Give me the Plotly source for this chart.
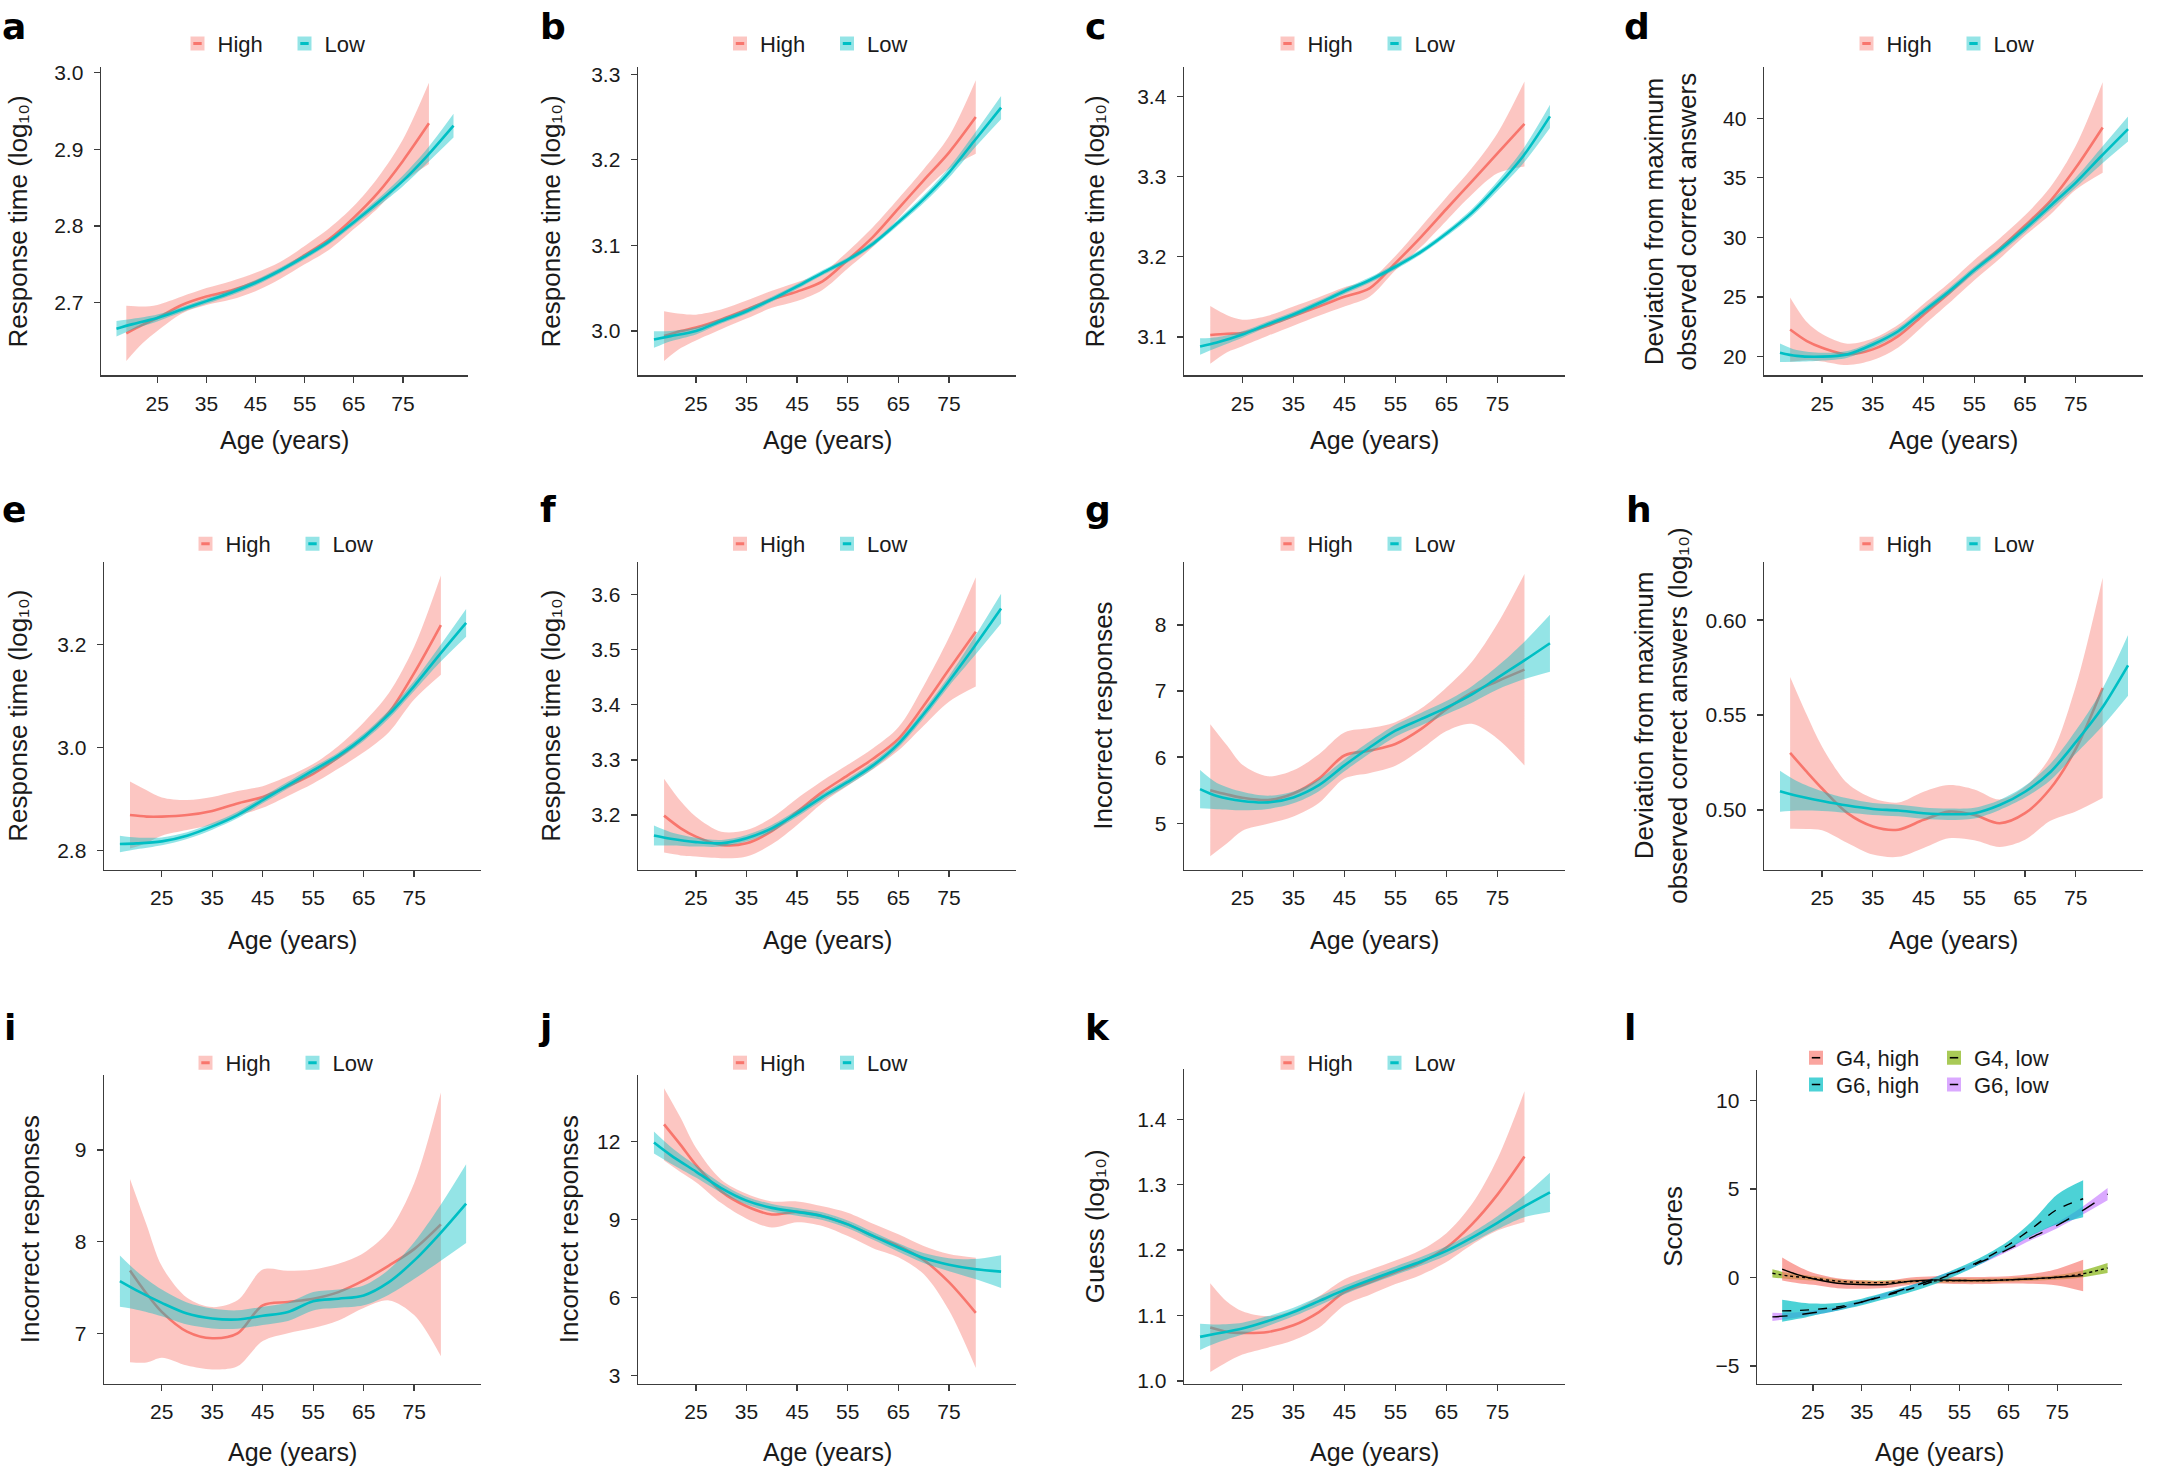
import numpy as np
import plotly.graph_objects as go

# ---------------- data ----------------
AGE_HIGH = [18.7, 22, 25, 30, 35, 40, 45, 50, 55, 60, 65, 70, 75, 80.3]
AGE_LOW = [16.7, 20, 25, 30, 35, 40, 45, 50, 55, 60, 65, 70, 75, 80, 85.3]
X_TICKS = [25, 35, 45, 55, 65, 75]
X_TICK_TEXT = ["25", "35", "45", "55", "65", "75"]
GROUPS = ["High", "Low"]

A_HIGH = [2.660, 2.671, 2.680, 2.697, 2.708, 2.716, 2.727, 2.742, 2.762, 2.783, 2.811, 2.844, 2.885, 2.934]
A_HIGH_CI = [0.036, 0.024, 0.017, 0.011, 0.011, 0.012, 0.012, 0.011, 0.012, 0.014, 0.015, 0.020, 0.028, 0.053]
A_LOW = [2.666, 2.672, 2.680, 2.691, 2.702, 2.713, 2.726, 2.742, 2.760, 2.780, 2.805, 2.831, 2.859, 2.892, 2.931]
A_LOW_CI = [0.010, 0.007, 0.0045, 0.0035, 0.0035, 0.0035, 0.0035, 0.0035, 0.0035, 0.0035, 0.004, 0.005, 0.007, 0.0095, 0.0155]

B_HIGH = [2.994, 3.000, 3.004, 3.0135, 3.025, 3.037, 3.046, 3.058, 3.083, 3.110, 3.143, 3.176, 3.2085, 3.250]
B_HIGH_CI = [0.029, 0.020, 0.015, 0.0115, 0.0105, 0.010, 0.011, 0.010, 0.010, 0.0115, 0.0115, 0.013, 0.019, 0.043]
B_LOW = [2.990, 2.994, 3.000, 3.0116, 3.023, 3.037, 3.052, 3.068, 3.083, 3.102, 3.127, 3.154, 3.185, 3.222, 3.261]
B_LOW_CI = [0.0097, 0.006, 0.004, 0.003, 0.003, 0.003, 0.003, 0.003, 0.003, 0.003, 0.0035, 0.0045, 0.006, 0.0085, 0.0135]

C_HIGH = [3.1025, 3.104, 3.105, 3.114, 3.126, 3.138, 3.150, 3.161, 3.192, 3.2245, 3.2595, 3.294, 3.329, 3.3655]
C_HIGH_CI = [0.036, 0.023, 0.0165, 0.0125, 0.012, 0.0115, 0.012, 0.0105, 0.009, 0.0125, 0.0145, 0.0165, 0.025, 0.053]
C_LOW = [3.088, 3.093, 3.103, 3.116, 3.128, 3.142, 3.157, 3.171, 3.1875, 3.206, 3.229, 3.255, 3.288, 3.325, 3.375]
C_LOW_CI = [0.0103, 0.0066, 0.004, 0.0033, 0.0033, 0.0033, 0.0033, 0.0033, 0.0033, 0.0033, 0.0036, 0.0045, 0.006, 0.009, 0.0144]

D_HIGH = [22.27, 21.30, 20.75, 20.19, 20.61, 21.72, 23.52, 25.32, 27.26, 29.06, 31.0, 33.07, 35.84, 39.22]
D_HIGH_CI = [2.7, 1.6, 1.15, 0.9, 0.9, 0.95, 0.9, 0.85, 0.85, 0.85, 0.85, 1.15, 1.85, 3.8]
D_LOW = [20.33, 20.06, 20.0, 20.19, 21.02, 22.13, 23.80, 25.46, 27.26, 28.92, 30.72, 32.66, 34.60, 36.81, 39.09]
D_LOW_CI = [0.78, 0.5, 0.33, 0.28, 0.28, 0.28, 0.28, 0.28, 0.28, 0.28, 0.3, 0.35, 0.42, 0.69, 1.05]

E_HIGH = [2.869, 2.866, 2.866, 2.869, 2.877, 2.8915, 2.904, 2.925, 2.949, 2.981, 3.0195, 3.0675, 3.144, 3.237]
E_HIGH_CI = [0.065, 0.051, 0.037, 0.029, 0.027, 0.024, 0.021, 0.019, 0.019, 0.022, 0.029, 0.038, 0.051, 0.096]
E_LOW = [2.813, 2.814, 2.818, 2.829, 2.847, 2.869, 2.898, 2.927, 2.9555, 2.984, 3.0195, 3.064, 3.119, 3.1795, 3.2415]
E_LOW_CI = [0.016, 0.0115, 0.0077, 0.0064, 0.0064, 0.0064, 0.0064, 0.0064, 0.0064, 0.0064, 0.007, 0.008, 0.0096, 0.016, 0.027]

F_HIGH = [3.199, 3.176, 3.161, 3.146, 3.149, 3.171, 3.206, 3.242, 3.272, 3.302, 3.338, 3.398, 3.4635, 3.532]
F_HIGH_CI = [0.067, 0.049, 0.036, 0.024, 0.024, 0.024, 0.024, 0.02, 0.019, 0.019, 0.021, 0.036, 0.058, 0.099]
F_LOW = [3.163, 3.157, 3.151, 3.149, 3.158, 3.176, 3.203, 3.233, 3.260, 3.290, 3.329, 3.383, 3.4425, 3.505, 3.574]
F_LOW_CI = [0.018, 0.012, 0.008, 0.006, 0.006, 0.006, 0.006, 0.006, 0.006, 0.006, 0.0065, 0.0075, 0.009, 0.017, 0.027]

G_HIGH = [5.50, 5.435, 5.385, 5.35, 5.45, 5.675, 6.025, 6.10, 6.20, 6.425, 6.725, 6.975, 7.15, 7.325]
G_HIGH_CI = [1.0, 0.74, 0.5, 0.36, 0.35, 0.37, 0.35, 0.34, 0.33, 0.31, 0.33, 0.47, 0.87, 1.45]
G_LOW = [5.515, 5.41, 5.335, 5.315, 5.39, 5.575, 5.875, 6.15, 6.40, 6.575, 6.75, 6.95, 7.20, 7.45, 7.725]
G_LOW_CI = [0.29, 0.2, 0.14, 0.1, 0.09, 0.09, 0.09, 0.09, 0.09, 0.095, 0.1, 0.125, 0.175, 0.275, 0.43]

H_HIGH = [0.5301, 0.5200, 0.5113, 0.4983, 0.4913, 0.4896, 0.4948, 0.4991, 0.4974, 0.4930, 0.4983, 0.5113, 0.5322, 0.5643]
H_HIGH_CI = [0.040, 0.030, 0.022, 0.0157, 0.0148, 0.0143, 0.0148, 0.014, 0.0134, 0.0125, 0.014, 0.017, 0.033, 0.058]
H_LOW = [0.5099, 0.5075, 0.5047, 0.5023, 0.5005, 0.4997, 0.4983, 0.4977, 0.4983, 0.5026, 0.5096, 0.5200, 0.5357, 0.5530, 0.5762]
H_LOW_CI = [0.0108, 0.0078, 0.0052, 0.0038, 0.0031, 0.003, 0.003, 0.003, 0.0028, 0.0026, 0.0031, 0.0043, 0.0061, 0.0096, 0.016]

I_HIGH = [7.685, 7.432, 7.234, 7.018, 6.946, 7.0, 7.306, 7.342, 7.378, 7.45, 7.577, 7.739, 7.919, 8.189]
I_HIGH_CI = [1.0, 0.75, 0.5, 0.37, 0.34, 0.36, 0.39, 0.34, 0.32, 0.31, 0.30, 0.38, 0.72, 1.44]
I_LOW = [7.569, 7.468, 7.332, 7.216, 7.162, 7.151, 7.191, 7.234, 7.35, 7.378, 7.414, 7.559, 7.793, 8.081, 8.416]
I_LOW_CI = [0.28, 0.21, 0.145, 0.12, 0.108, 0.1, 0.1, 0.1, 0.1, 0.1, 0.108, 0.137, 0.2, 0.3, 0.43]

J_HIGH = [12.646, 11.848, 11.087, 10.073, 9.503, 9.186, 9.287, 9.122, 8.806, 8.362, 7.982, 7.437, 6.587, 5.408]
J_HIGH_CI = [1.39, 1.04, 0.66, 0.45, 0.48, 0.5, 0.4, 0.38, 0.45, 0.47, 0.44, 0.54, 1.08, 2.12]
J_LOW = [11.949, 11.467, 10.834, 10.2, 9.718, 9.439, 9.287, 9.122, 8.806, 8.362, 7.918, 7.513, 7.259, 7.094, 6.993]
J_LOW_CI = [0.42, 0.32, 0.23, 0.18, 0.15, 0.15, 0.15, 0.15, 0.15, 0.15, 0.16, 0.19, 0.25, 0.38, 0.63]

K_HIGH = [1.0814, 1.0748, 1.0733, 1.0748, 1.085, 1.1052, 1.1355, 1.1507, 1.1659, 1.181, 1.2038, 1.2392, 1.2847, 1.3429]
K_HIGH_CI = [0.068, 0.046, 0.033, 0.024, 0.023, 0.024, 0.02, 0.019, 0.018, 0.019, 0.022, 0.031, 0.055, 0.10]
K_LOW = [1.0673, 1.0723, 1.0799, 1.0915, 1.1052, 1.1219, 1.1391, 1.1542, 1.1684, 1.1826, 1.1987, 1.219, 1.2417, 1.2655, 1.2882]
K_LOW_CI = [0.02, 0.014, 0.009, 0.0075, 0.0066, 0.0066, 0.0066, 0.0066, 0.0066, 0.0066, 0.007, 0.0076, 0.01, 0.016, 0.03]

# panel l: four groups
L_NAMES = ["G4, high", "G6, high", "G4, low", "G6, low"]
G4_HIGH = [0.48, 0.15, -0.07, -0.32, -0.39, -0.39, -0.20, -0.13, -0.17, -0.17, -0.13, -0.07, 0.02, 0.11]
G4_HIGH_CI = [0.65, 0.47, 0.34, 0.28, 0.24, 0.2, 0.2, 0.2, 0.2, 0.2, 0.2, 0.28, 0.47, 0.89]
G6_HIGH = [-1.88, -1.86, -1.81, -1.66, -1.38, -1.01, -0.63, -0.17, 0.39, 1.04, 1.84, 2.81, 3.85, 4.45]
G6_HIGH_CI = [0.62, 0.47, 0.34, 0.22, 0.19, 0.19, 0.19, 0.19, 0.19, 0.19, 0.22, 0.41, 0.84, 1.04]
G4_LOW = [0.24, 0.09, -0.04, -0.2, -0.28, -0.28, -0.22, -0.19, -0.17, -0.17, -0.13, -0.07, 0.02, 0.2, 0.54]
G4_LOW_CI = [0.23, 0.17, 0.13, 0.11, 0.11, 0.11, 0.11, 0.11, 0.11, 0.11, 0.11, 0.11, 0.13, 0.19, 0.28]
G6_LOW = [-2.22, -2.16, -1.99, -1.75, -1.38, -0.97, -0.54, -0.07, 0.39, 0.95, 1.6, 2.3, 2.95, 3.75, 4.71]
G6_LOW_CI = [0.23, 0.17, 0.13, 0.11, 0.11, 0.11, 0.11, 0.11, 0.11, 0.11, 0.12, 0.14, 0.16, 0.22, 0.34]

# y-axis ticks per panel
A_YTICKS, A_YTEXT = [2.7, 2.8, 2.9, 3.0], ["2.7", "2.8", "2.9", "3.0"]
B_YTICKS, B_YTEXT = [3.0, 3.1, 3.2, 3.3], ["3.0", "3.1", "3.2", "3.3"]
C_YTICKS, C_YTEXT = [3.1, 3.2, 3.3, 3.4], ["3.1", "3.2", "3.3", "3.4"]
D_YTICKS, D_YTEXT = [20, 25, 30, 35, 40], ["20", "25", "30", "35", "40"]
E_YTICKS, E_YTEXT = [2.8, 3.0, 3.2], ["2.8", "3.0", "3.2"]
F_YTICKS, F_YTEXT = [3.2, 3.3, 3.4, 3.5, 3.6], ["3.2", "3.3", "3.4", "3.5", "3.6"]
G_YTICKS, G_YTEXT = [5, 6, 7, 8], ["5", "6", "7", "8"]
H_YTICKS, H_YTEXT = [0.50, 0.55, 0.60], ["0.50", "0.55", "0.60"]
I_YTICKS, I_YTEXT = [7, 8, 9], ["7", "8", "9"]
J_YTICKS, J_YTEXT = [3, 6, 9, 12], ["3", "6", "9", "12"]
K_YTICKS, K_YTEXT = [1.0, 1.1, 1.2, 1.3, 1.4], ["1.0", "1.1", "1.2", "1.3", "1.4"]
L_YTICKS, L_YTEXT = [-5, 0, 5, 10], ["\u22125", "0", "5", "10"]

# ---------------- styling / layout ----------------
W, H = 2164, 1477
FONT = "Liberation Sans, Arial, Helvetica, sans-serif"
LETTER_FONT = "DejaVu Sans, Liberation Sans, sans-serif"
TXT = "#1a1a1a"
AX = "#3c3c3c"
HIGH_LINE, HIGH_FILL = "#F8766D", "rgba(248,118,109,0.42)"
LOW_LINE, LOW_FILL = "#00BFC4", "rgba(0,191,196,0.42)"
L_FILLS = ["rgba(248,118,109,0.66)", "rgba(0,191,196,0.70)", "rgba(124,174,0,0.66)", "rgba(199,124,255,0.66)"]
L_DASH = ["solid", "dash", "dot", "longdash"]
X_RANGE = [13.55, 88.25]
RT = "Response time (log\u2081\u2080)"
DEV = "Deviation from maximum<br>observed correct answers"
DEVLOG = "Deviation from maximum<br>observed correct answers (log\u2081\u2080)"
INC = "Incorrect responses"

ROW_LETTER_Y = [21, 508, 1031]
ROW_LEGEND_Y = [38, 543, 1067]
ROW_XTITLE_Y = [438, 943, 1460]

panels = [
    dict(l="a", hi=A_HIGH, hic=A_HIGH_CI, lo=A_LOW, loc=A_LOW_CI, yt=A_YTICKS, ytx=A_YTEXT, yr=[2.605, 3.007], title=RT, box=(101, 468, 62, 373), tx=18, lx=0, row=0),
    dict(l="b", hi=B_HIGH, hic=B_HIGH_CI, lo=B_LOW, loc=B_LOW_CI, yt=B_YTICKS, ytx=B_YTEXT, yr=[2.948, 3.308], title=RT, box=(638, 1016, 62, 373), tx=551, lx=538, row=0),
    dict(l="c", hi=C_HIGH, hic=C_HIGH_CI, lo=C_LOW, loc=C_LOW_CI, yt=C_YTICKS, ytx=C_YTEXT, yr=[3.052, 3.436], title=RT, box=(1184, 1565, 62, 373), tx=1095, lx=1083, row=0),
    dict(l="d", hi=D_HIGH, hic=D_HIGH_CI, lo=D_LOW, loc=D_LOW_CI, yt=D_YTICKS, ytx=D_YTEXT, yr=[18.42, 44.26], title=DEV, box=(1764, 2143, 62, 373), tx=1671, lx=1622, row=0),
    dict(l="e", hi=E_HIGH, hic=E_HIGH_CI, lo=E_LOW, loc=E_LOW_CI, yt=E_YTICKS, ytx=E_YTEXT, yr=[2.763, 3.360], title=RT, box=(104, 481, 561, 872), tx=18, lx=0, row=1),
    dict(l="f", hi=F_HIGH, hic=F_HIGH_CI, lo=F_LOW, loc=F_LOW_CI, yt=F_YTICKS, ytx=F_YTEXT, yr=[3.101, 3.659], title=RT, box=(638, 1016, 561, 872), tx=551, lx=538, row=1),
    dict(l="g", hi=G_HIGH, hic=G_HIGH_CI, lo=G_LOW, loc=G_LOW_CI, yt=G_YTICKS, ytx=G_YTEXT, yr=[4.295, 8.96], title=INC, box=(1184, 1565, 561, 872), tx=1103, lx=1083, row=1),
    dict(l="h", hi=H_HIGH, hic=H_HIGH_CI, lo=H_LOW, loc=H_LOW_CI, yt=H_YTICKS, ytx=H_YTEXT, yr=[0.4685, 0.6308], title=DEVLOG, box=(1764, 2143, 561, 872), tx=1661, lx=1624, row=1),
    dict(l="i", hi=I_HIGH, hic=I_HIGH_CI, lo=I_LOW, loc=I_LOW_CI, yt=I_YTICKS, ytx=I_YTEXT, yr=[6.449, 9.822], title=INC, box=(104, 481, 1079, 1391), tx=30, lx=2, row=2),
    dict(l="j", hi=J_HIGH, hic=J_HIGH_CI, lo=J_LOW, loc=J_LOW_CI, yt=J_YTICKS, ytx=J_YTEXT, yr=[2.684, 14.55], title=INC, box=(638, 1016, 1079, 1391), tx=569, lx=536, row=2),
    dict(l="k", hi=K_HIGH, hic=K_HIGH_CI, lo=K_LOW, loc=K_LOW_CI, yt=K_YTICKS, ytx=K_YTEXT, yr=[0.9955, 1.477], title="Guess (log\u2081\u2080)", box=(1184, 1565, 1073, 1391), tx=1095, lx=1083, row=2),
]
L_PANEL = dict(l="l", yt=L_YTICKS, ytx=L_YTEXT, yr=[-6.0, 11.73], title="Scores", box=(1757, 2122, 1074, 1391), tx=1673, lx=1622, row=2)

fig = go.Figure()
layout = dict(width=W, height=H, margin=dict(l=0, r=0, t=0, b=0), autosize=False,
              paper_bgcolor="white", plot_bgcolor="white",
              font=dict(family=FONT, color=TXT, size=21), showlegend=True,
              annotations=[], hovermode=False)


def axis_names(k):
    return ("x" if k == 1 else f"x{k}"), ("y" if k == 1 else f"y{k}")


def leg_name(n):
    return "legend" if n == 1 else f"legend{n}"


def add_band(ages, mean, ci, fill, xa, ya):
    m, c = np.asarray(mean, float), np.asarray(ci, float)
    sp = dict(width=0, shape="spline", smoothing=0.9)
    fig.add_trace(go.Scatter(x=ages, y=m - c, mode="lines", line=sp, showlegend=False,
                             hoverinfo="skip", xaxis=xa, yaxis=ya))
    fig.add_trace(go.Scatter(x=ages, y=m + c, mode="lines", line=sp, fill="tonexty",
                             fillcolor=fill, showlegend=False, hoverinfo="skip", xaxis=xa, yaxis=ya))


def add_line(ages, mean, color, width, dash, xa, ya):
    fig.add_trace(go.Scatter(x=ages, y=mean, mode="lines",
                             line=dict(color=color, width=width, dash=dash, shape="spline", smoothing=0.9),
                             showlegend=False, hoverinfo="skip", xaxis=xa, yaxis=ya))


def setup_axes(k, p):
    xa, ya = axis_names(k)
    x0, x1, yt, yb = p["box"]
    common = dict(showline=True, linecolor=AX, linewidth=1.4, ticks="outside", ticklen=6,
                  tickwidth=1.3, tickcolor=AX, showgrid=False, zeroline=False,
                  tickfont=dict(size=21, color=TXT, family=FONT), fixedrange=True)
    layout["xaxis" if k == 1 else f"xaxis{k}"] = dict(
        common, domain=[x0 / W, x1 / W], range=X_RANGE, tickvals=X_TICKS, ticktext=X_TICK_TEXT,
        anchor=ya, ticklabelstandoff=3)
    layout["yaxis" if k == 1 else f"yaxis{k}"] = dict(
        common, domain=[1 - yb / H, 1 - yt / H], range=p["yr"], tickvals=p["yt"], ticktext=p["ytx"],
        anchor=xa, ticklabelstandoff=6)
    cx, cy = (x0 + x1) / 2, (yt + yb) / 2
    ann = layout["annotations"]
    ann.append(dict(text=f"<b>{p['l']}</b>", x=p["lx"] / W, y=1 - ROW_LETTER_Y[p["row"]] / H,
                    xref="paper", yref="paper", xanchor="left", yanchor="middle", showarrow=False,
                    font=dict(size=36, color="black", family=LETTER_FONT)))
    ann.append(dict(text=p["title"], x=p["tx"] / W, y=1 - cy / H, xref="paper", yref="paper",
                    xanchor="center", yanchor="middle", textangle=-90, showarrow=False,
                    font=dict(size=26, color=TXT, family=FONT)))
    ann.append(dict(text="Age (years)", x=cx / W, y=1 - ROW_XTITLE_Y[p["row"]] / H,
                    xref="paper", yref="paper", xanchor="center", yanchor="middle", showarrow=False,
                    font=dict(size=25, color=TXT, family=FONT)))
    return xa, ya, cx


def legend_cfg(x, y, xanchor, transparent, entrywidth=62):
    return dict(orientation="h", x=x, y=y, xanchor=xanchor, yanchor="middle",
                bgcolor="rgba(0,0,0,0)", borderwidth=0, traceorder="normal",
                itemclick=False, itemdoubleclick=False,
                entrywidth=entrywidth, entrywidthmode="pixels",
                font=dict(size=22, family=FONT, color="rgba(0,0,0,0)" if transparent else TXT))


def add_legend_pair(leg_sq, leg_ln, name, fill, line_color, line_w, xa, ya):
    fig.add_trace(go.Scatter(x=[None], y=[None], mode="markers", name=name, legend=leg_sq,
                             marker=dict(symbol="square", size=14, color=fill, line=dict(width=0)),
                             xaxis=xa, yaxis=ya))
    fig.add_trace(go.Scatter(x=[None], y=[None], mode="markers", name=name, legend=leg_ln,
                             marker=dict(symbol="line-ew", size=6, color=line_color,
                                         line=dict(width=line_w, color=line_color)),
                             xaxis=xa, yaxis=ya))


leg_n = 0
for k, p in enumerate(panels, start=1):
    xa, ya, cx = setup_axes(k, p)
    add_band(AGE_HIGH, p["hi"], p["hic"], HIGH_FILL, xa, ya)
    add_line(AGE_HIGH, p["hi"], HIGH_LINE, 2.6, "solid", xa, ya)
    add_band(AGE_LOW, p["lo"], p["loc"], LOW_FILL, xa, ya)
    add_line(AGE_LOW, p["lo"], LOW_LINE, 2.6, "solid", xa, ya)
    # legend: filled square with a short line drawn on top (two stacked legends)
    sq, ln = leg_name(leg_n + 1), leg_name(leg_n + 2)
    leg_n += 2
    ly = 1 - ROW_LEGEND_Y[p["row"]] / H
    layout[sq] = legend_cfg(cx / W, ly, "center", False)
    layout[ln] = legend_cfg(cx / W, ly, "center", True)
    for name, fc, lc in zip(GROUPS, [HIGH_FILL, LOW_FILL], [HIGH_LINE, LOW_LINE]):
        add_legend_pair(sq, ln, name, fc, lc, 3, xa, ya)

# panel l
k = 12
xa, ya, cx = setup_axes(k, L_PANEL)
l_series = [(AGE_HIGH, G4_HIGH, G4_HIGH_CI), (AGE_HIGH, G6_HIGH, G6_HIGH_CI),
            (AGE_LOW, G4_LOW, G4_LOW_CI), (AGE_LOW, G6_LOW, G6_LOW_CI)]
for idx in [2, 3, 0, 1]:
    ages, m, c = l_series[idx]
    add_band(ages, m, c, L_FILLS[idx], xa, ya)
for idx in [2, 3, 0, 1]:
    ages, m, c = l_series[idx]
    add_line(ages, m, "black", 1.4, L_DASH[idx], xa, ya)
# two legend rows: (G4 high, G4 low) and (G6 high, G6 low)
for row_y, members in [(1062, [0, 2]), (1089, [1, 3])]:
    sq, ln = leg_name(leg_n + 1), leg_name(leg_n + 2)
    leg_n += 2
    layout[sq] = legend_cfg(1796 / W, 1 - row_y / H, "left", False, entrywidth=93)
    layout[ln] = legend_cfg(1796 / W, 1 - row_y / H, "left", True, entrywidth=93)
    for idx in members:
        add_legend_pair(sq, ln, L_NAMES[idx], L_FILLS[idx], "black", 1.6, xa, ya)

fig.update_layout(**layout)
fig.write_html("out.html", config={"displayModeBar": False, "staticPlot": True},
               post_script="document.body.style.margin='0px';")
